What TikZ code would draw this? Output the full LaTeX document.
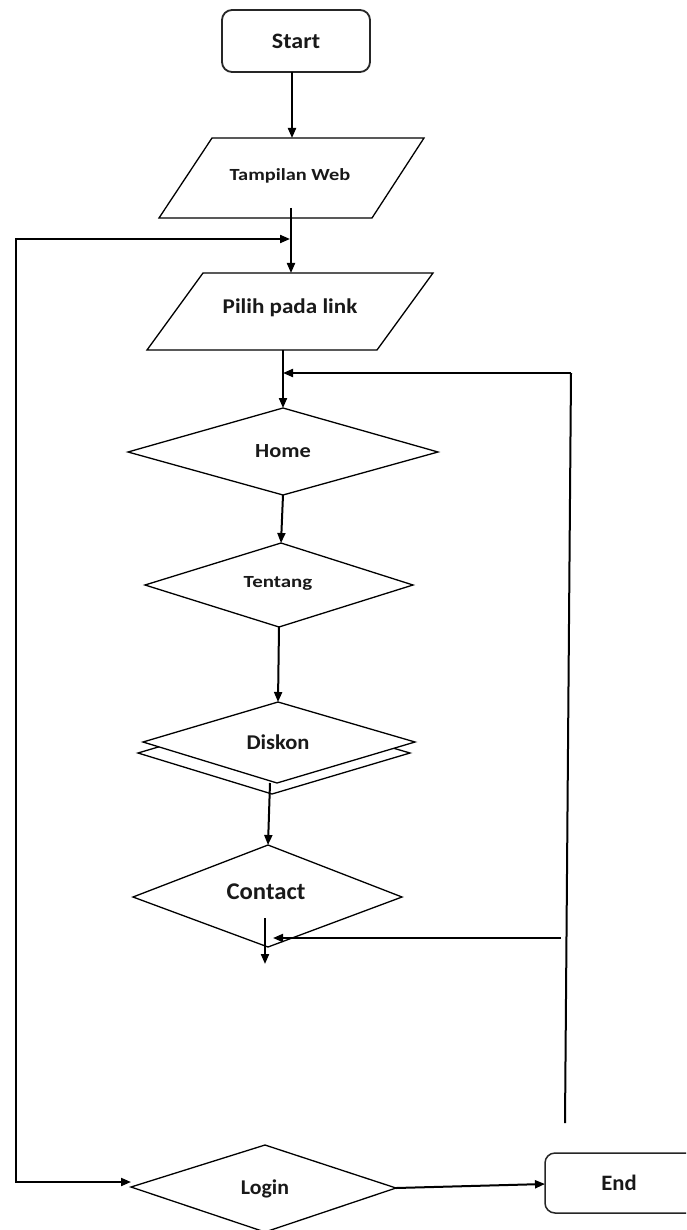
\documentclass[tikz,border=0pt]{standalone}
\usepackage{fontspec}
\setmainfont{Carlito}
\usetikzlibrary{arrows.meta}
\tikzset{
  shapeline/.style={draw=black, line width=1.3pt, fill=white, line join=miter},
  boxline/.style={draw=black!85, line width=1.8pt, rounded corners=10pt, fill=white},
  conn/.style={draw=black, line width=2pt, -{Triangle[length=10pt,width=8pt]}},
  conntwo/.style={draw=black, line width=2pt, {Triangle[length=10pt,width=8pt]}-{Triangle[length=10pt,width=8pt]}},
  plain/.style={draw=black, line width=2pt},
  lbl/.style={font=\bfseries, inner sep=0pt, text=black!90}
}
\begin{document}
\begin{tikzpicture}[x=1pt,y=-1pt]
\clip (0,0) rectangle (686,1230);
\fill[white] (0,0) rectangle (686,1230);

% Start
\draw[boxline] (222,10) rectangle (370,72);
\node[lbl, font=\bfseries\fontsize{22}{24}\selectfont] (start) at (296,41) {\scalebox{1.09}[1]{Start}};
\coordinate (startB) at (292,72);

% Tampilan Web
\coordinate (twTL) at (212,138); \coordinate (twTR) at (424,138);
\coordinate (twBR) at (372,218); \coordinate (twBL) at (159,218);
\draw[shapeline] (twTL) -- (twTR) -- (twBR) -- (twBL) -- cycle;
\node[lbl, font=\bfseries\fontsize{17}{19}\selectfont] (tw) at (290,176) {\scalebox{1.2}[1]{Tampilan Web}};
\coordinate (twT) at (292,138);
\coordinate (twOut) at (291,208);

% Pilih pada link
\coordinate (plTL) at (203,273); \coordinate (plTR) at (433,273);
\coordinate (plBR) at (377,350); \coordinate (plBL) at (147,350);
\draw[shapeline] (plTL) -- (plTR) -- (plBR) -- (plBL) -- cycle;
\node[lbl, font=\bfseries\fontsize{21}{23}\selectfont] (pl) at (290,308) {\scalebox{1.1}[1]{Pilih pada link}};
\coordinate (plT) at (291,273);
\coordinate (plB) at (283,350);

% Home
\coordinate (hoT) at (283,408); \coordinate (hoR) at (438,452);
\coordinate (hoB) at (283,495); \coordinate (hoL) at (128,452);
\draw[shapeline] (hoT) -- (hoR) -- (hoB) -- (hoL) -- cycle;
\node[lbl, font=\bfseries\fontsize{20}{22}\selectfont] (home) at (283,451) {\scalebox{1.12}[1]{Home}};

% Tentang
\coordinate (teT) at (281,543); \coordinate (teR) at (413,585);
\coordinate (teB) at (279,627); \coordinate (teL) at (145,585);
\draw[shapeline] (teT) -- (teR) -- (teB) -- (teL) -- cycle;
\node[lbl, font=\bfseries\fontsize{17}{19}\selectfont] (tentang) at (278,583) {\scalebox{1.23}[1]{Tentang}};

% Diskon (stacked)
\draw[shapeline] (273,713) -- (410,753) -- (272,794) -- (138,753) -- cycle;
\coordinate (diT) at (278,702); \coordinate (diR) at (415,742);
\coordinate (diB) at (277,783); \coordinate (diL) at (143,742);
\draw[shapeline] (diT) -- (diR) -- (diB) -- (diL) -- cycle;
\node[lbl, font=\bfseries\fontsize{21}{23}\selectfont] (diskon) at (278,742) {\scalebox{1.07}[1]{Diskon}};
\coordinate (diOut) at (270,783);

% Contact
\coordinate (coT) at (268,845); \coordinate (coR) at (402,897);
\coordinate (coB) at (268,947); \coordinate (coL) at (133,897);
\draw[shapeline] (coT) -- (coR) -- (coB) -- (coL) -- cycle;
\node[lbl, font=\bfseries\fontsize{24}{26}\selectfont] (contact) at (266,892) {\scalebox{1.03}[1]{Contact}};
\coordinate (coIn) at (265,918);
\coordinate (coOut) at (265,964);

% Login
\coordinate (loT) at (265,1145); \coordinate (loR) at (396,1188);
\coordinate (loB) at (265,1232); \coordinate (loL) at (131,1187);
\draw[shapeline] (loT) -- (loR) -- (loB) -- (loL) -- cycle;
\node[lbl, font=\bfseries\fontsize{21}{23}\selectfont] (login) at (265,1189) {\scalebox{1.04}[1]{Login}};

% End
\draw[boxline, line width=1.5pt] (545,1153) rectangle (705,1213);
\node[lbl, font=\bfseries\fontsize{22}{24}\selectfont] (end) at (619,1183) {\scalebox{1.03}[1]{End}};
\coordinate (endL) at (545,1184);

% loop coordinates
\coordinate (lpA) at (290,239);
\coordinate (lpB) at (16,239);
\coordinate (lpC) at (16,1182);
\coordinate (lpD) at (131,1182);
\coordinate (rpA) at (283,373);
\coordinate (rpB) at (571,373);
\coordinate (rpC) at (565,1123);
\coordinate (rpD) at (561,938);
\coordinate (rpE) at (273,938);

% connectors
\draw[conn] (startB) -- (twT);
\draw[conn] (twOut) -- (plT);
\draw[conntwo] (lpA) -- (lpB) -- (lpC) -- (lpD);
\draw[conn] (plB) -- (hoT);
\draw[conn] (rpB) -- (rpA);
\draw[plain] (rpB) -- (rpC);
\draw[conn] (hoB) -- (teT);
\draw[conn] (teB) -- (diT);
\draw[conn] (diOut) -- (coT);
\draw[conn] (rpD) -- (rpE);
\draw[conn] (coIn) -- (coOut);
\draw[conn] (loR) -- (endL);
\end{tikzpicture}
\end{document}
